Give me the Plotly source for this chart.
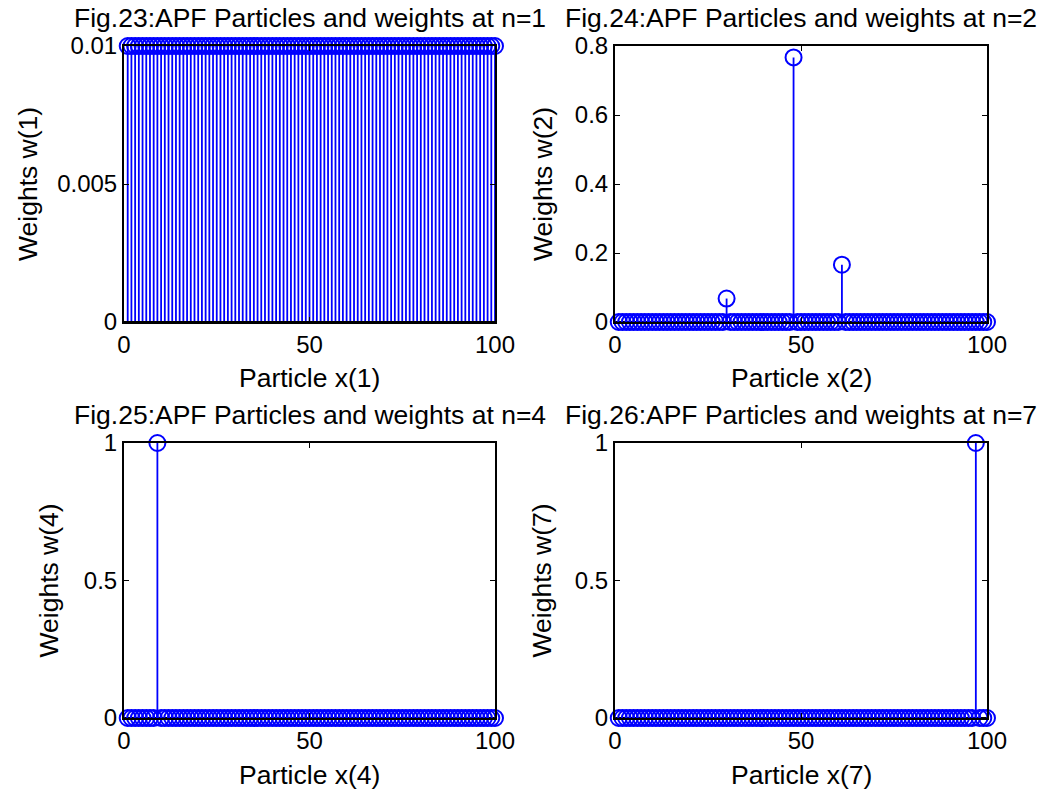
import plotly.graph_objects as go

W, H = 1038, 793

# ---- data ----
particles = list(range(1, 101))

weights_n1 = [0.01] * 100

# n=2: almost all weights ~0, three significant particles
spike_n2_idx = [30, 48, 61]
spike_n2_val = [0.068, 0.767, 0.166]

# n=4: single particle with weight 1
spike_n4_idx = [9]
spike_n4_val = [1.0]

# n=7: single particle with weight 1
spike_n7_idx = [97]
spike_n7_val = [1.0]

titles = ["Fig.23:APF Particles and weights at n=1",
          "Fig.24:APF Particles and weights at n=2",
          "Fig.25:APF Particles and weights at n=4",
          "Fig.26:APF Particles and weights at n=7"]
xlabels = ["Particle x(1)", "Particle x(2)", "Particle x(4)", "Particle x(7)"]
ylabels = ["Weights w(1)", "Weights w(2)", "Weights w(4)", "Weights w(7)"]
yranges = [[0, 0.01], [0, 0.8], [0, 1], [0, 1]]
ytickvals = [[0, 0.005, 0.01], [0, 0.2, 0.4, 0.6, 0.8], [0, 0.5, 1], [0, 0.5, 1]]
yticktext = [["0", "0.005", "0.01"], ["0", "0.2", "0.4", "0.6", "0.8"],
             ["0", "0.5", "1"], ["0", "0.5", "1"]]
xtickvals = [0, 50, 100]


def spikes(idx, val):
    w = [0.0] * 100
    for i, v in zip(idx, val):
        w[i - 1] = v
    return w


all_weights = [weights_n1,
               spikes(spike_n2_idx, spike_n2_val),
               spikes(spike_n4_idx, spike_n4_val),
               spikes(spike_n7_idx, spike_n7_val)]

# ---- layout geometry (pixels) ----
px_x = [(124, 495), (615, 987), (124, 495), (615, 987)]
px_y = [(46, 322), (46, 322), (443, 718), (443, 718)]
title_y = [18, 18, 415, 415]
xlab_y = [378, 378, 775, 775]
ylab_x = [28, 543, 48, 541]

FONT = "Liberation Sans, Arial, sans-serif"
FS = 24
FS_LAB = 26.5
BLUE = "#0000FF"

fig = go.Figure()
layout = dict(width=W, height=H, margin=dict(l=0, r=0, t=0, b=0, autoexpand=False),
              paper_bgcolor="white", plot_bgcolor="white",
              showlegend=False, font=dict(family=FONT, size=FS, color="black"))
annotations = []

for k in range(4):
    sfx = "" if k == 0 else str(k + 1)
    xa, ya = "x" + sfx, "y" + sfx
    w = all_weights[k]
    sx, sy = [], []
    for x, v in zip(particles, w):
        sx += [x, x, None]
        sy += [0, v, None]
    fig.add_trace(go.Scatter(x=sx, y=sy, mode="lines",
                             line=dict(color=BLUE, width=1.8),
                             xaxis=xa, yaxis=ya, hoverinfo="skip",
                             cliponaxis=False))
    # baseline
    fig.add_trace(go.Scatter(x=[0, 100], y=[0, 0], mode="lines",
                             line=dict(color="black", width=2),
                             xaxis=xa, yaxis=ya, hoverinfo="skip"))
    fig.add_trace(go.Scatter(x=particles, y=w, mode="markers",
                             marker=dict(symbol="circle-open", size=16, color=BLUE,
                                         line=dict(width=2, color=BLUE)),
                             xaxis=xa, yaxis=ya, cliponaxis=False))
    x0, x1 = px_x[k]
    y0, y1 = px_y[k]
    layout["xaxis" + sfx] = dict(domain=[x0 / W, x1 / W], range=[0, 100],
                                 anchor=ya, tickvals=xtickvals, automargin=False,
                                 ticks="inside", ticklen=5, tickcolor="black",
                                 showline=True, linecolor="black", linewidth=2,
                                 mirror="ticks", showgrid=False, zeroline=False,
                                 tickfont=dict(size=FS, family=FONT, color="black"))
    layout["yaxis" + sfx] = dict(domain=[1 - y1 / H, 1 - y0 / H], range=yranges[k],
                                 anchor=xa, tickvals=ytickvals[k], ticktext=yticktext[k],
                                 automargin=False,
                                 ticks="inside", ticklen=5, tickcolor="black",
                                 showline=True, linecolor="black", linewidth=2,
                                 mirror="ticks", showgrid=False, zeroline=False,
                                 tickfont=dict(size=FS, family=FONT, color="black"))
    cx = (x0 + x1) / 2 / W
    annotations.append(dict(text=titles[k], x=cx, y=1 - title_y[k] / H,
                            xref="paper", yref="paper", xanchor="center",
                            yanchor="middle", showarrow=False,
                            font=dict(size=FS_LAB, family=FONT, color="black")))
    annotations.append(dict(text=xlabels[k], x=cx, y=1 - xlab_y[k] / H,
                            xref="paper", yref="paper", xanchor="center",
                            yanchor="middle", showarrow=False,
                            font=dict(size=FS_LAB, family=FONT, color="black")))
    annotations.append(dict(text=ylabels[k], x=ylab_x[k] / W,
                            y=1 - (y0 + y1) / 2 / H,
                            xref="paper", yref="paper", xanchor="center",
                            yanchor="middle", textangle=-90, showarrow=False,
                            font=dict(size=FS_LAB, family=FONT, color="black")))

layout["annotations"] = annotations
fig.update_layout(**layout)
fig.write_html("out.html")
